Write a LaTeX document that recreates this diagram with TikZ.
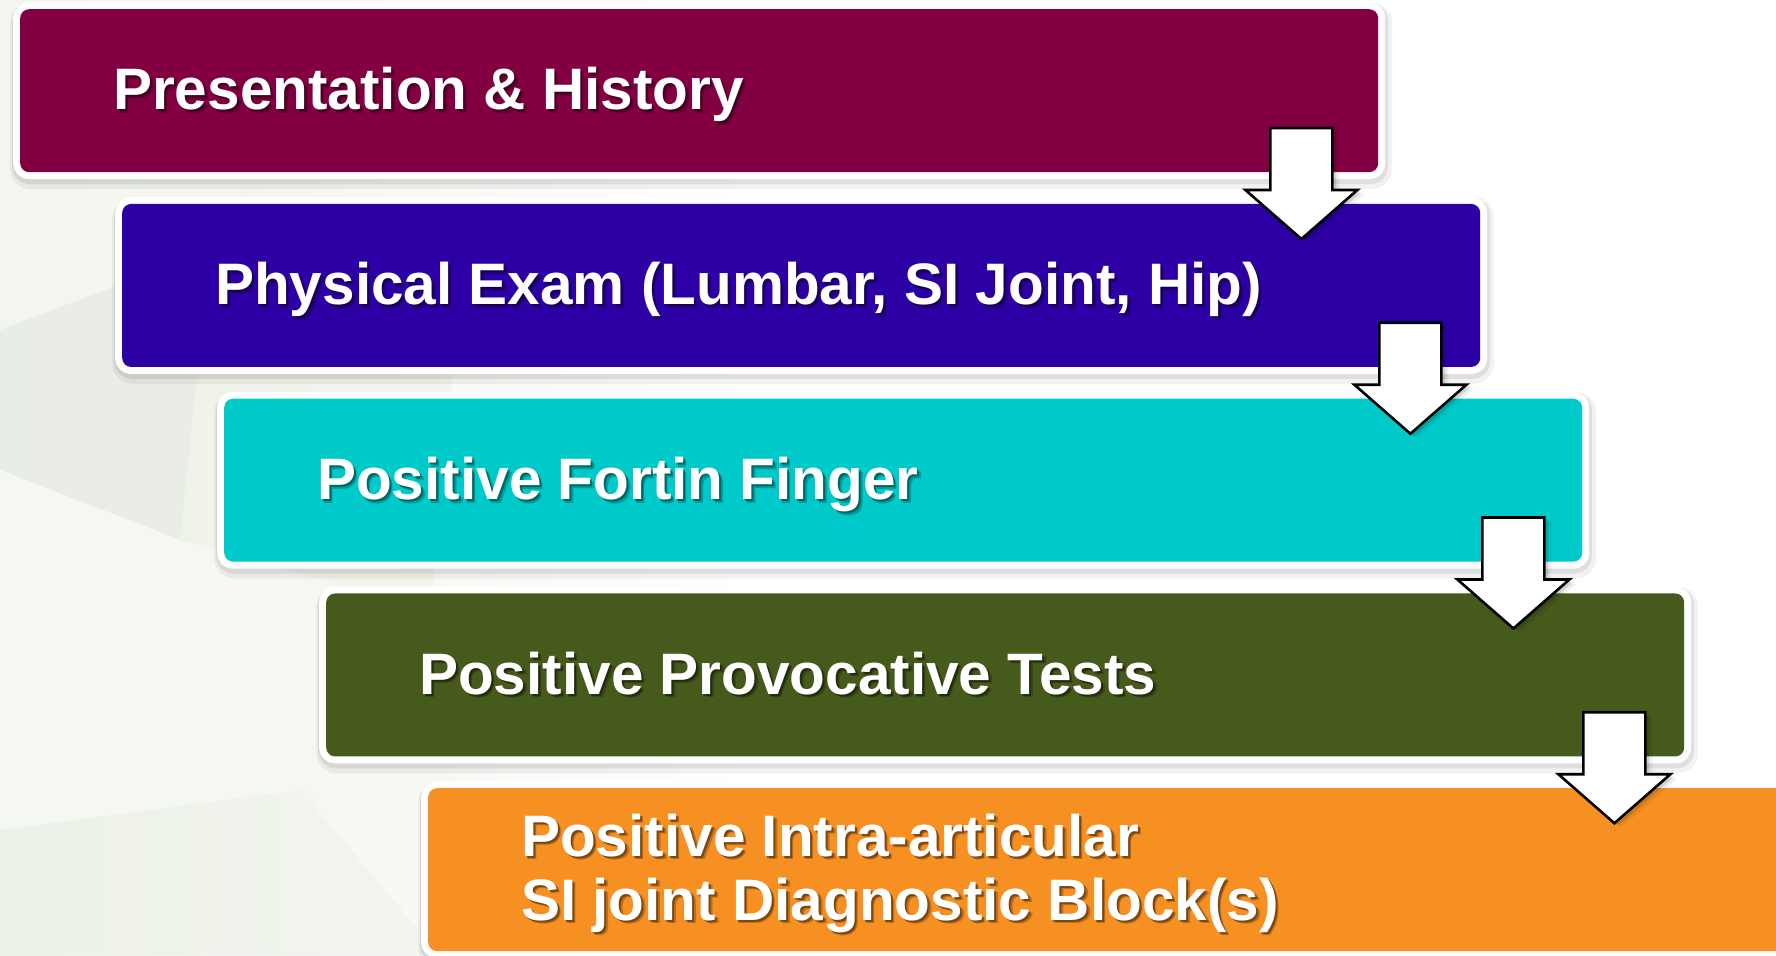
\documentclass[tikz,border=0pt]{standalone}
\usepackage{fontspec}
\setmainfont{Liberation Sans}
\usetikzlibrary{calc}
\definecolor{boxA}{HTML}{820041}
\definecolor{boxB}{HTML}{2D00A5}
\definecolor{boxC}{HTML}{00C9C9}
\definecolor{boxD}{HTML}{465A1B}
\definecolor{boxE}{HTML}{F79023}
\definecolor{bgA}{HTML}{EDF2E8}
\definecolor{bgB}{HTML}{E7EBE4}
\definecolor{bgC}{HTML}{F6F9F3}
\newcommand\stagetext[3]{%
  \node[lbl, text=black, text opacity=0.22] at ($#2+(3.5,3.5)$) {#3};
  \node[lbl, text=black, text opacity=0.35] at ($#2+(2,2)$) {#3};
  \node[lbl] (#1) at #2 {#3};
}
\begin{document}
\begin{tikzpicture}[x=1pt,y=-1pt,
  stage/.style={rectangle, rounded corners=9pt, minimum width=1358pt,
    minimum height=163pt, inner sep=0pt, fill=#1,
    preaction={draw=black, draw opacity=0.05, line width=24pt,
      transform canvas={shift={(2pt,-5pt)}}},
    preaction={draw=black, draw opacity=0.08, line width=18pt,
      transform canvas={shift={(1pt,-3pt)}}},
    preaction={draw=white, line width=14pt}},
  lbl/.style={text=white, font=\fontsize{58.5}{64}\selectfont\bfseries,
    inner sep=0pt, anchor=base west},
  blockarrow/.style={fill=white, draw=black, line width=2.6pt, line join=miter},
  arrowshadow/.style={fill=black, opacity=#1}]
\useasboundingbox (0,0) rectangle (1776,955);
\fill[white] (0,0) rectangle (1776,955);

% faceted backdrop on the left
\shade[left color=bgA, right color=white] (0,0) rectangle (760,955);
\fill[bgB, opacity=0.7] (0,330) -- (210,250) -- (180,540) -- (0,470) -- cycle;
\fill[bgC, opacity=0.9] (0,470) -- (180,540) -- (300,790) -- (0,830) -- cycle;
\fill[bgA, opacity=0.6] (210,250) -- (470,200) -- (430,610) -- (180,540) -- cycle;
\fill[bgC, opacity=0.8] (180,540) -- (430,610) -- (460,800) -- (300,790) -- cycle;
\fill[bgA, opacity=0.5] (0,830) -- (300,790) -- (440,955) -- (0,955) -- cycle;
\fill[bgC, opacity=0.6] (0,0) -- (330,0) -- (210,250) -- (0,330) -- cycle;

% the five stages, stepping down to the right
\foreach \i/\c [evaluate=\i as \x using 20+102*(\i-1),
               evaluate=\i as \y using 9+194.75*(\i-1)]
  in {1/boxA,2/boxB,3/boxC,4/boxD,5/boxE}
  \node[stage=\c, anchor=north west] (b\i) at (\x,\y) {};

\stagetext{t1}{($(b1.north west)+(93,101)$)}{Presentation \& History}
\stagetext{t2}{($(b2.north west)+(93,101)$)}{Physical Exam (Lumbar, SI Joint, Hip)}
\stagetext{t3}{($(b3.north west)+(93,101)$)}{Positive Fortin Finger}
\stagetext{t4}{($(b4.north west)+(93,101)$)}{Positive Provocative Tests}
\stagetext{t5a}{($(b5.north west)+(93,68)$)}{Positive Intra-articular}
\stagetext{t5b}{($(b5.north west)+(93,132)$)}{SI joint Diagnostic Block(s)}

% block arrows linking each stage to the next
\foreach \i/\dx in {1/-77,2/-70,3/-69,4/-70} {
  \coordinate (a\i) at ($(b\i.north east)+(\dx,119)$);
  \foreach \s/\o in {7/0.06,4/0.12} {
    \fill[arrowshadow=\o] ($(a\i)+(\s,0.6*\s)$) ++(-31,0) -- ++(62,0) -- ++(0,62)
      -- ++(25,0) -- ++(-56,49) -- ++(-56,-49) -- ++(25,0) -- cycle;
  }
  \draw[blockarrow] (a\i) ++(-31,0) -- ++(62,0) -- ++(0,62) -- ++(25,0)
    -- ++(-56,49) -- ++(-56,-49) -- ++(25,0) -- cycle;
}
\end{tikzpicture}
\end{document}
